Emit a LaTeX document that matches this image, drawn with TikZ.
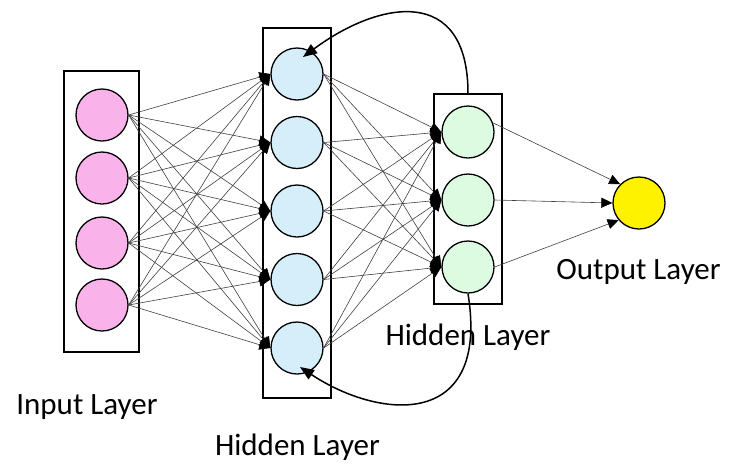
\documentclass[tikz,border=0pt]{standalone}
\usepackage{fontspec}
\setmainfont{Carlito}
\usetikzlibrary{arrows.meta}
\definecolor{inpink}{RGB}{250,178,235}
\definecolor{hidblue}{RGB}{214,238,250}
\definecolor{hidgreen}{RGB}{221,251,224}
\begin{document}
\begin{tikzpicture}[x=1pt, y=-1pt,
  neuron/.style={circle, draw, line width=1.3pt, minimum size=52pt, inner sep=0pt},
  layerbox/.style={draw, line width=1.2pt, inner sep=0pt},
  link/.style={draw=black!75, line width=0.6pt, -{Triangle[length=11pt, width=10pt, color=black]}},
  loopback/.style={line width=1.5pt, -{Triangle[length=14pt, width=11pt]}},
  lbl/.style={font=\fontsize{31}{36}\selectfont}]
  \useasboundingbox (0,0) rectangle (739,472);
  % layer boxes
  \node[layerbox, minimum width=75pt, minimum height=281pt] (boxIn) at (101.5,211.5) {};
  \node[layerbox, minimum width=68pt, minimum height=370pt] (boxA) at (297,213) {};
  \node[layerbox, minimum width=68pt, minimum height=210pt] (boxB) at (468,199) {};
  % neurons
  \foreach \i/\y in {1/115, 2/178, 3/243, 4/305}
    \node[neuron, fill=inpink] (in\i) at (102,\y) {};
  \foreach \i/\y in {1/74, 2/142.5, 3/211, 4/279.5, 5/348}
    \node[neuron, fill=hidblue] (hA\i) at (297,\y) {};
  \foreach \i/\y in {1/132, 2/200, 3/267}
    \node[neuron, fill=hidgreen] (hB\i) at (468,\y) {};
  \node[neuron, fill=yellow] (out) at (639,203) {};
  % connections
  \foreach \i in {1,...,4}
    \foreach \j in {1,...,5}
      \draw[link] (in\i.east) -- (hA\j.west);
  \foreach \i in {1,...,5}
    \foreach \j in {1,...,3}
      \draw[link] (hA\i.east) -- (hB\j.west);
  \draw[link] (hB1.20) -- (out.135);
  \draw[link] (hB2.east) -- (out.west);
  \draw[link] (hB3.east) -- (out.220);
  % recurrent links
  \draw[loopback] (boxB.north) .. controls (468,-15) and (380,0) .. ([shift={(6,-17)}]hA1.center);
  \draw[loopback] (hB3.south) .. controls (490,430) and (380,420) .. ([shift={(3,19)}]hA5.center);
  % labels
  \node[lbl] (lblIn) at (87,407) {Input Layer};
  \node[lbl] (lblA) at (297.5,447) {Hidden Layer};
  \node[lbl] (lblB) at (468,337) {Hidden Layer};
  \node[lbl] (lblOut) at (638.5,272) {Output Layer};
\end{tikzpicture}
\end{document}
